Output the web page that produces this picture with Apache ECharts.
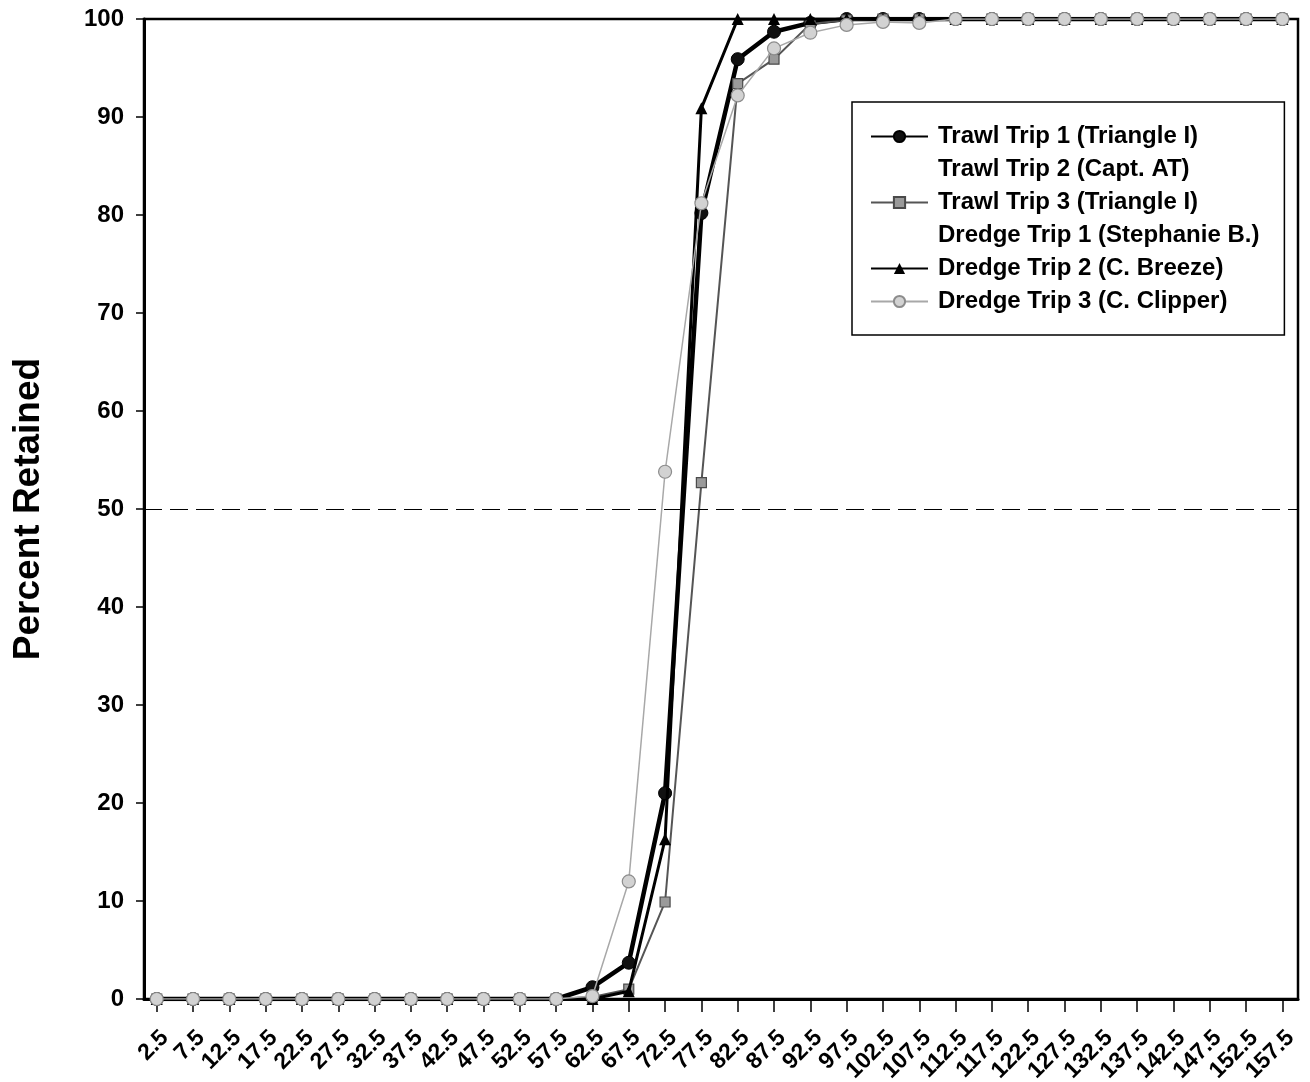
<!DOCTYPE html>
<html>
<head>
<meta charset="utf-8">
<script src="https://cdn.jsdelivr.net/npm/echarts@6/dist/echarts.min.js"></script>
<style>
  html, body { margin: 0; padding: 0; background: #ffffff; }
  #chart { width: 1310px; height: 1082px; }
</style>
</head>
<body>
<div id="chart"></div>
<script>
// Shell-height size classes (mm), bin midpoints
const sizeClasses = [2.5, 7.5, 12.5, 17.5, 22.5, 27.5, 32.5, 37.5, 42.5, 47.5, 52.5, 57.5,
  62.5, 67.5, 72.5, 77.5, 82.5, 87.5, 92.5, 97.5, 102.5, 107.5, 112.5, 117.5,
  122.5, 127.5, 132.5, 137.5, 142.5, 147.5, 152.5, 157.5];

// Percent retained per size class for each trip
const trawlTrip1 = [0, 0, 0, 0, 0, 0, 0, 0, 0, 0, 0, 0,
  1.2, 3.7, 21.0, 80.2, 95.9, 98.7, 99.6, 100, 100, 100, 100, 100,
  100, 100, 100, 100, 100, 100, 100, 100];
const trawlTrip2 = [];
const trawlTrip3 = [0, 0, 0, 0, 0, 0, 0, 0, 0, 0, 0, 0,
  0.2, 1.0, 9.9, 52.7, 93.4, 95.9, 99.5, 99.9, 100, 100, 100, 100,
  100, 100, 100, 100, 100, 100, 100, 100];
const dredgeTrip1 = [];
const dredgeTrip2 = [0, 0, 0, 0, 0, 0, 0, 0, 0, 0, 0, 0,
  0, 0.8, 16.3, 90.9, 100, 100, 100, 100, 100, 100, 100, 100,
  100, 100, 100, 100, 100, 100, 100, 100];
const dredgeTrip3 = [0, 0, 0, 0, 0, 0, 0, 0, 0, 0, 0, 0,
  0.3, 12.0, 53.8, 81.2, 92.2, 97.0, 98.6, 99.4, 99.7, 99.6, 100, 100,
  100, 100, 100, 100, 100, 100, 100, 100];

// Reference level for the 50% retention line
const referenceLevel = 50;

const yTicks = { min: 0, max: 100, step: 10 };

const FONT = '"Liberation Sans", Arial, Helvetica, sans-serif';

function pairs(values) {
  return values.map((v, i) => [sizeClasses[i], v]);
}

const chart = echarts.init(document.getElementById('chart'), null, { renderer: 'canvas' });

const option = {
  animation: false,
  backgroundColor: '#ffffff',
  grid: {
    left: 144, right: 12, top: 19, bottom: 83,
    outerBoundsMode: 'none',
    containLabel: false,
    show: true,
    borderColor: '#000000',
    borderWidth: 2.5,
    backgroundColor: '#ffffff'
  },
  legend: {
    orient: 'vertical',
    left: 852,
    top: 102,
    padding: [18, 25, 17, 18],
    itemWidth: 57,
    itemHeight: 14,
    itemGap: 0,
    selectedMode: false,
    backgroundColor: '#ffffff',
    borderColor: '#000000',
    borderWidth: 1.5,
    textStyle: {
      fontFamily: FONT, fontSize: 24, fontWeight: 'bold', color: '#000000',
      lineHeight: 33, padding: [0, 0, 0, 5]
    },
    data: [
      { name: 'Trawl Trip 1 (Triangle I)' },
      { name: 'Trawl Trip 2 (Capt. AT)', icon: 'none' },
      { name: 'Trawl Trip 3 (Triangle I)' },
      { name: 'Dredge Trip 1 (Stephanie B.)', icon: 'none' },
      { name: 'Dredge Trip 2 (C. Breeze)' },
      { name: 'Dredge Trip 3 (C. Clipper)' }
    ]
  },
  xAxis: {
    type: 'value',
    min: 0.75,
    max: 159.65,
    splitLine: { show: false },
    axisLine: { show: true, onZero: false, lineStyle: { color: '#000000', width: 3 } },
    axisTick: {
      show: true, customValues: sizeClasses, length: 13, inside: false,
      lineStyle: { color: '#000000', width: 1.5 }
    },
    axisLabel: {
      customValues: sizeClasses,
      rotate: 45,
      margin: 27,
      verticalAlign: 'top',
      fontFamily: FONT, fontSize: 23, fontWeight: 'bold', color: '#000000',
      formatter: v => String(v)
    }
  },
  yAxis: {
    type: 'value',
    min: yTicks.min, max: yTicks.max, interval: yTicks.step,
    name: 'Percent Retained',
    nameLocation: 'middle',
    nameRotate: 90,
    nameGap: 97,
    nameTextStyle: { fontFamily: FONT, fontSize: 37, fontWeight: 'bold', color: '#000000' },
    splitLine: { show: false },
    axisLine: { show: true, lineStyle: { color: '#000000', width: 3 } },
    axisTick: { show: true, length: 8, inside: false, lineStyle: { color: '#000000', width: 1.5 } },
    axisLabel: {
      margin: 20,
      fontFamily: FONT, fontSize: 24, fontWeight: 'bold', color: '#000000'
    }
  },
  series: [
    {
      name: 'Trawl Trip 1 (Triangle I)',
      type: 'line',
      data: pairs(trawlTrip1),
      symbol: 'circle', symbolSize: 13,
      lineStyle: { color: '#000000', width: 4.5 },
      itemStyle: { color: '#111111', borderColor: '#000000', borderWidth: 1 },
      z: 2,
      markLine: {
        silent: true,
        symbol: 'none',
        label: { show: false },
        lineStyle: { type: [18, 8], color: '#000000', width: 1.2 },
        data: [{ yAxis: referenceLevel }]
      }
    },
    {
      name: 'Trawl Trip 2 (Capt. AT)',
      type: 'line',
      data: pairs(trawlTrip2),
      symbol: 'none',
      lineStyle: { color: 'rgba(0,0,0,0)', width: 0 },
      itemStyle: { color: 'rgba(0,0,0,0)' },
      z: 3
    },
    {
      name: 'Trawl Trip 3 (Triangle I)',
      type: 'line',
      data: pairs(trawlTrip3),
      symbol: 'rect', symbolSize: 10,
      lineStyle: { color: '#555555', width: 2 },
      itemStyle: { color: '#9a9a9a', borderColor: '#4a4a4a', borderWidth: 1.2 },
      z: 4
    },
    {
      name: 'Dredge Trip 1 (Stephanie B.)',
      type: 'line',
      data: pairs(dredgeTrip1),
      symbol: 'none',
      lineStyle: { color: 'rgba(0,0,0,0)', width: 0 },
      itemStyle: { color: 'rgba(0,0,0,0)' },
      z: 5
    },
    {
      name: 'Dredge Trip 2 (C. Breeze)',
      type: 'line',
      data: pairs(dredgeTrip2),
      symbol: 'triangle', symbolSize: 12,
      lineStyle: { color: '#000000', width: 3 },
      itemStyle: { color: '#000000' },
      z: 6
    },
    {
      name: 'Dredge Trip 3 (C. Clipper)',
      type: 'line',
      data: pairs(dredgeTrip3),
      symbol: 'circle', symbolSize: 13,
      lineStyle: { color: '#a8a8a8', width: 1.5 },
      itemStyle: { color: '#d2d2d2', borderColor: '#8c8c8c', borderWidth: 1.2 },
      z: 7
    }
  ]
};

chart.setOption(option);
</script>
</body>
</html>
